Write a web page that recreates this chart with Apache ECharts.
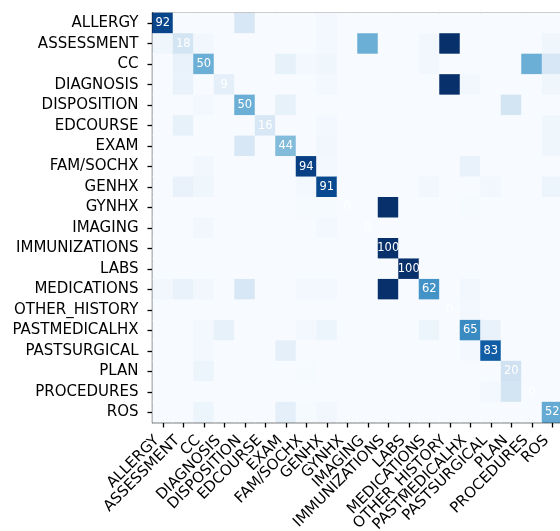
<!DOCTYPE html>
<html><head><meta charset="utf-8">
<script src="https://cdn.jsdelivr.net/npm/echarts@6/dist/echarts.min.js"></script>
<style>html,body{margin:0;padding:0;background:#fff}#c{width:560px;height:531px}</style>
</head><body><div id="c"></div>
<script>
const categories = ['ALLERGY','ASSESSMENT','CC','DIAGNOSIS','DISPOSITION','EDCOURSE','EXAM','FAM/SOCHX','GENHX','GYNHX','IMAGING','IMMUNIZATIONS','LABS','MEDICATIONS','OTHER_HISTORY','PASTMEDICALHX','PASTSURGICAL','PLAN','PROCEDURES','ROS'];
// rows = true label, columns = predicted label
const matrix = [
  [92,0,0,0,16,0,0,0,2,0,0,0,0,0,0,0,0,0,0,0],
  [4,18,3,0,0,0,0,0,2,0,50,0,0,3,100,0,0,0,0,4],
  [0,7,50,0,0,0,8,2,4,0,0,0,0,3,0,0,0,0,50,16],
  [0,7,0,9,0,0,0,0,2,0,0,0,0,0,100,3,0,0,0,4],
  [0,0,2,0,50,0,8,0,0,0,0,0,0,0,0,0,0,18,0,0],
  [0,8,0,0,0,16,0,0,2,0,0,0,0,0,0,0,0,0,0,4],
  [0,0,0,0,16,0,44,0,3,0,0,0,0,0,0,0,0,0,0,4],
  [0,0,3,0,0,0,0,94,2,0,0,0,0,0,0,7,0,0,0,0],
  [0,7,4,0,0,0,0,2,91,0,0,0,0,3,0,0,3,0,0,5],
  [0,0,0,0,0,0,0,1,1,0,0,100,0,0,0,1,0,0,0,0],
  [0,0,3,0,0,0,0,0,2,0,0,0,0,0,0,0,0,0,0,0],
  [0,0,0,0,0,0,0,0,0,0,0,100,0,0,0,0,0,0,0,0],
  [0,0,0,0,0,0,0,0,0,0,0,0,100,0,0,0,0,0,0,0],
  [3,7,3,0,16,0,0,2,2,0,0,100,0,62,0,3,0,0,0,0],
  [0,0,0,0,0,0,0,0,0,0,0,0,0,0,0,2,0,0,0,0],
  [0,0,2,8,0,0,0,2,5,0,0,0,0,5,0,65,7,0,0,0],
  [0,0,2,0,0,0,9,0,0,0,0,0,0,0,0,2,83,0,0,0],
  [0,0,5,0,0,0,0,1,0,0,0,0,0,0,0,0,0,20,0,0],
  [0,0,0,0,0,0,0,0,0,0,0,0,0,0,0,0,2,18,0,0],
  [0,0,5,0,0,0,9,1,3,0,0,0,0,0,0,0,0,0,0,52]
];
const blues = ['#f7fbff','#deebf7','#c6dbef','#9ecae1','#6baed6','#4292c6','#2171b5','#08519c','#08306b'];

const data = [];
matrix.forEach((row, y) => row.forEach((v, x) => {
  const item = { value: [x, y, v] };
  if (x === y) item.label = { show: true };
  data.push(item);
}));

const FONT = '"DejaVu Sans", sans-serif';
const chart = echarts.init(document.getElementById('c'), null, { renderer: 'canvas' });
chart.setOption({
  animation: false,
  backgroundColor: '#fff',
  grid: { left: 152.5, top: 13, width: 410, height: 409.5, containLabel: false, outerBoundsMode: 'none' },
  xAxis: [{
    type: 'category', data: categories, position: 'bottom',
    axisLine: { show: true, onZero: false, lineStyle: { color: '#000', width: 1.3 } },
    axisTick: { show: true, alignWithLabel: true, length: 5, lineStyle: { color: '#000', width: 1.3 } },
    axisLabel: { rotate: 45, interval: 0, fontSize: 15, color: '#000', fontFamily: FONT, margin: 10, padding: [0, 8, 0, 0] },
    splitLine: { show: false }, splitArea: { show: false }
  }, {
    type: 'category', data: categories, position: 'top',
    axisLine: { show: true, onZero: false, lineStyle: { color: '#000', width: 1.3 } },
    axisTick: { show: false }, axisLabel: { show: false }
  }],
  yAxis: [{
    type: 'category', data: categories, inverse: true,
    axisLine: { show: true, onZero: false, lineStyle: { color: '#000', width: 1.3 } },
    axisTick: { show: true, alignWithLabel: true, length: 5, lineStyle: { color: '#000', width: 1.3 } },
    axisLabel: { interval: 0, fontSize: 15, color: '#000', fontFamily: FONT, margin: 14 },
    splitLine: { show: false }, splitArea: { show: false }
  }],
  visualMap: { show: false, min: 0, max: 100, inRange: { color: blues }, dimension: 2 },
  series: [{
    type: 'heatmap', data: data, xAxisIndex: 0, yAxisIndex: 0, z: 1,
    label: { show: false, color: '#fff', fontSize: 11.5, fontFamily: FONT, formatter: p => p.value[2] },
    itemStyle: { borderWidth: 0 },
    emphasis: { disabled: true }
  }]
});
</script></body></html>
